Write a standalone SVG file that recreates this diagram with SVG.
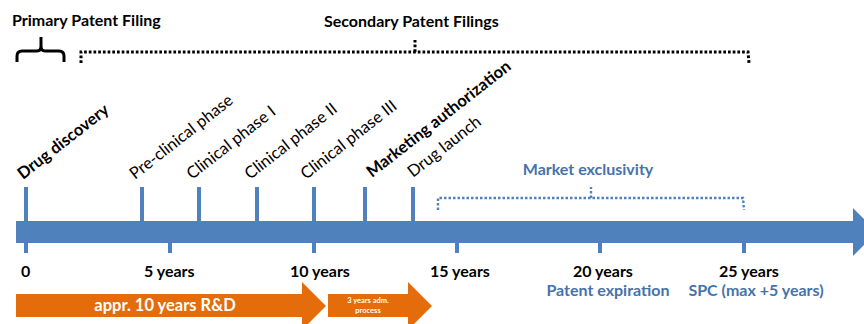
<svg xmlns="http://www.w3.org/2000/svg" width="864" height="324" viewBox="0 0 864 324">
<style>
text{font-family:Lato,"Liberation Sans",sans-serif;}
.b{font-weight:bold;font-size:16px;fill:#000;}
.rot{font-size:16.5px;fill:#000;}
.rotb{font-size:16.5px;font-weight:bold;fill:#000;}
.blue{font-weight:bold;font-size:16px;fill:#4672aa;}
.tick{stroke:#4F81BD;stroke-width:4;}
.w{fill:#fff;font-weight:bold;}
</style>
<rect width="864" height="324" fill="#fff"/>
<g id="titles">
<text class="b" x="12" y="26">Primary Patent Filing</text>
<text class="b" x="324" y="27">Secondary Patent Filings</text>
</g>
<g id="brackets" fill="none">
<path d="M17,62 L17,56 Q17,51 22,51 L37,51 Q41,51 41,46 L41,37 M41,46 Q41,51 45,51 L59,51 Q64,51 64,56 L64,62" stroke="#000" stroke-width="3"/>
<path d="M81,63 L81,52 L748,52 L749,63 M415,52 L415,40" stroke="#000" stroke-width="3" stroke-dasharray="2.7 2"/>
<path d="M438,210 L438,198 L743,198 L744,210 M591,198 L591,187" stroke="#4F81BD" stroke-width="2.4" stroke-dasharray="2.5 2"/>
</g>
<g id="timeline">
<polygon points="16,221 853,221 853,208 877,232 853,256 853,243 16,243" fill="#4F81BD"/>
<line class="tick" x1="26" y1="187" x2="26" y2="253"/>
<line class="tick" x1="142" y1="187" x2="142" y2="222"/>
<line class="tick" x1="199" y1="187" x2="199" y2="222"/>
<line class="tick" x1="257" y1="187" x2="257" y2="222"/>
<line class="tick" x1="314" y1="187" x2="314" y2="253"/>
<line class="tick" x1="365" y1="187" x2="365" y2="222"/>
<line class="tick" x1="413" y1="187" x2="413" y2="222"/>
<line class="tick" x1="170" y1="242" x2="170" y2="253"/>
<line class="tick" x1="457" y1="242" x2="457" y2="253"/>
<line class="tick" x1="600" y1="242" x2="600" y2="253"/>
<line class="tick" x1="744" y1="242" x2="744" y2="253"/>
</g>
<g id="phases">
<text class="rotb" transform="translate(23,180) rotate(-38)">Drug discovery</text>
<text class="rot" transform="translate(135,180) rotate(-38)">Pre-clinical phase</text>
<text class="rot" transform="translate(192,180) rotate(-38)">Clinical phase I</text>
<text class="rot" transform="translate(250,180) rotate(-38)">Clinical phase II</text>
<text class="rot" transform="translate(306,180) rotate(-38)">Clinical phase III</text>
<text class="rotb" transform="translate(372,178) rotate(-38)">Marketing authorization</text>
<text class="rot" transform="translate(413,178) rotate(-38)">Drug launch</text>
</g>
<g id="years">
<text class="b" x="21" y="277">0</text>
<text class="b" x="144" y="277">5 years</text>
<text class="b" x="290" y="277">10 years</text>
<text class="b" x="430" y="277">15 years</text>
<text class="b" x="573" y="277">20 years</text>
<text class="b" x="719" y="277">25 years</text>
<text class="blue" x="608" y="296" text-anchor="middle">Patent expiration</text>
<text class="blue" x="756" y="296" text-anchor="middle">SPC (max +5 years)</text>
<text class="blue" x="588" y="175" text-anchor="middle">Market exclusivity</text>
</g>
<g id="rd">
<polygon points="16,294 302,294 302,282 326,306 302,330 302,317 16,317" fill="#E46C0A"/>
<text class="w" x="165" y="311" font-size="16.5" text-anchor="middle">appr. 10 years R&amp;D</text>
</g>
<g id="adm">
<polygon points="328,294 408,294 408,282 432,306 408,330 408,317 328,317" fill="#E46C0A"/>
<text class="w" x="368" y="303" font-size="7.5" text-anchor="middle">3 years adm.</text>
<text class="w" x="368" y="313" font-size="7.5" text-anchor="middle">process</text>
</g>
</svg>
